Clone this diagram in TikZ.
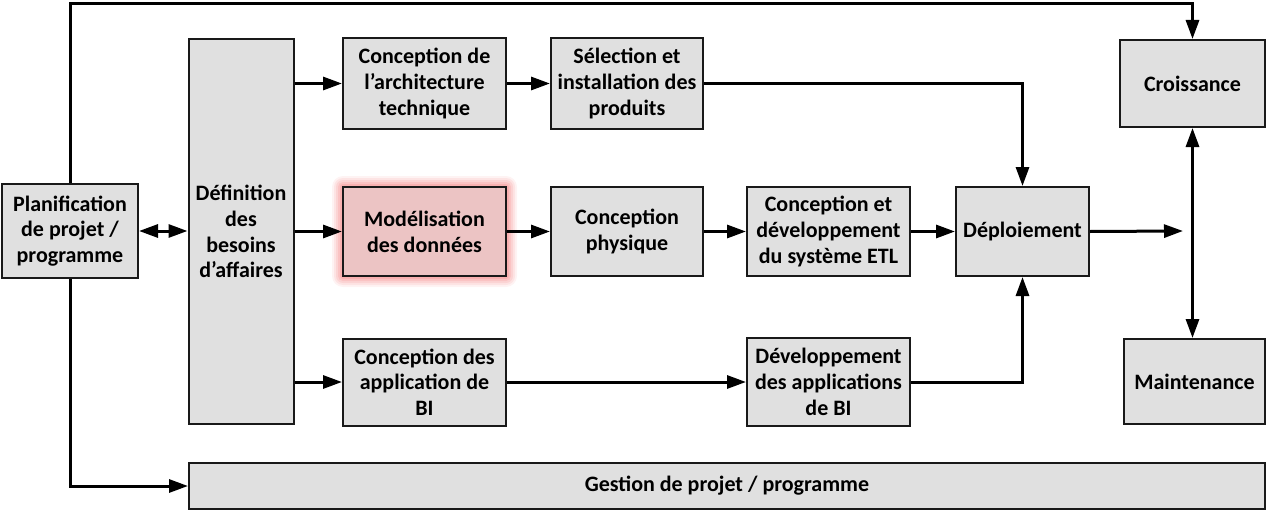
\documentclass[tikz,border=0pt]{standalone}
\usepackage{fontspec}
\setmainfont{Carlito}
\usetikzlibrary{arrows.meta}
\definecolor{boxfill}{RGB}{224,224,224}
\definecolor{pinkfill}{RGB}{236,196,196}
\definecolor{glow}{RGB}{240,80,80}
\begin{document}
\begin{tikzpicture}[x=1pt,y=-1pt,
  box/.style={draw=black!90, line width=2pt, fill=boxfill, align=center,
    font=\bfseries\fontsize{22}{25.7}\selectfont, inner sep=0pt},
  conn/.style={line width=3pt, -{Triangle[length=19pt,width=13pt]}},
  dconn/.style={line width=3pt, {Triangle[length=19pt,width=13pt]}-{Triangle[length=19pt,width=13pt]}},
  plain/.style={line width=3pt}]
\useasboundingbox (0,0) rectangle (1267,511);
% boxes: center (x,y), width, height
\node[box, minimum width=136pt, minimum height=94pt] (plan) at (70,231) {Planification\\de projet /\\programme};
\node[box, minimum width=105pt, minimum height=385pt] (def) at (241,231.5) {Définition\\des\\besoins\\d’affaires};
\node[box, minimum width=163pt, minimum height=91pt] (arch) at (424.5,83.5) {Conception de\\l’architecture\\technique};
\node[box, minimum width=152pt, minimum height=91pt] (sel) at (627,83.5) {Sélection et\\installation des\\produits};
% glow
\foreach \e/\o in {11/0.07,9/0.09,7/0.11,5/0.13,3/0.15,1/0.17}{
  \fill[glow, opacity=\o, rounded corners=\e pt] (343-\e,187-\e) rectangle (506+\e,276+\e);
}
\node[box, fill=pinkfill, minimum width=163pt, minimum height=89pt] (mod) at (424.5,231.5) {Modélisation\\des données};
\node[box, minimum width=152pt, minimum height=89pt] (phys) at (627,231.5) {Conception\\physique};
\node[box, minimum width=163pt, minimum height=89pt] (etl) at (828.5,231.5) {Conception et\\développement\\du système ETL};
\node[box, minimum width=133pt, minimum height=89pt] (dep) at (1022.5,231.5) {Déploiement};
\node[box, minimum width=163pt, minimum height=87pt] (bia) at (424.5,382) {Conception des\\application de\\BI};
\node[box, minimum width=163pt, minimum height=88pt] (bid) at (828.5,382) {Développement\\des applications\\de BI};
\node[box, minimum width=145pt, minimum height=87pt] (cro) at (1192.5,83.5) {Croissance};
\node[box, minimum width=141pt, minimum height=85pt] (mai) at (1194.5,381.5) {Maintenance};
\node[box, minimum width=1076pt, minimum height=46pt] (ges) at (727,486) {Gestion de projet / programme};
\coordinate (depout) at (1183,231);
% connectors
\draw[dconn] (plan.east) -- (def.west |- plan.east);
\draw[conn] (def.east |- arch.west) -- (arch.west);
\draw[conn] (def.east |- mod.west) -- (mod.west);
\draw[conn] (def.east |- bia.west) -- (bia.west);
\draw[conn] (arch.east) -- (sel.west);
\draw[conn] (mod.east) -- (phys.west);
\draw[conn] (phys.east) -- (etl.west);
\draw[conn] (etl.east) -- (dep.west);
\draw[conn] (bia.east) -- (bid.west);
\draw[conn] (sel.east) -| (dep.north);
\draw[conn] (bid.east) -| (dep.south);
\draw[conn] (dep.east) -- (depout);
\draw[dconn] (cro.south) -- (cro.south |- mai.north);
\draw[conn] (plan.north) -- (70,4) -| (cro.north);
\draw[conn] (plan.south) |- (ges.west);
\end{tikzpicture}
\end{document}
